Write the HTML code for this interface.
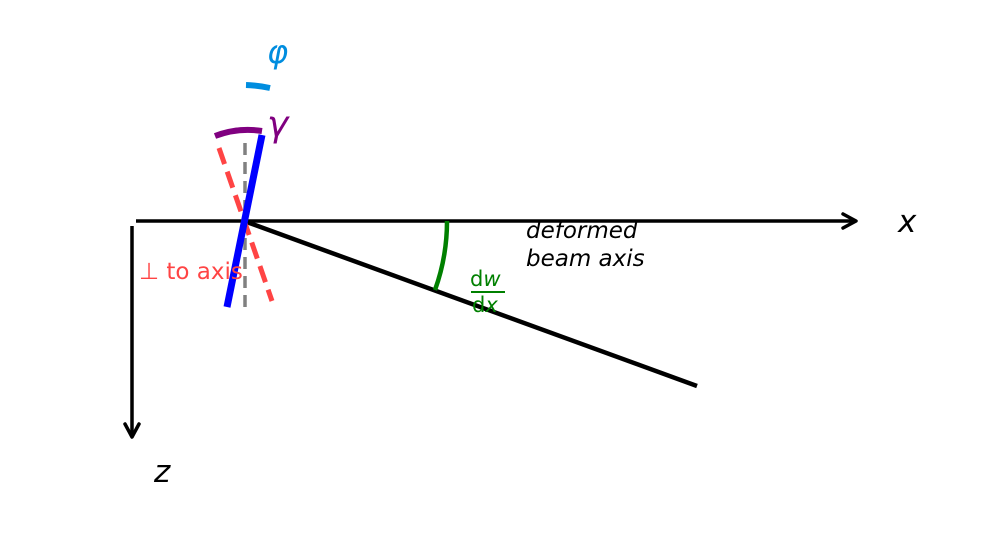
<!DOCTYPE html>
<html><head><meta charset="utf-8"><style>
html,body{margin:0;padding:0;background:#fff;}
svg{display:block;}
text{font-family:"DejaVu Sans","Liberation Sans",sans-serif;}
</style></head><body>
<svg width="996" height="556" viewBox="0 0 996 556" xmlns="http://www.w3.org/2000/svg">
<line x1="136" y1="221" x2="856" y2="221" stroke="#000" stroke-width="3.5"/>
<polyline points="843,214 856,221 843,228" fill="none" stroke="#000" stroke-width="3.5" stroke-linecap="round" stroke-linejoin="round"/>
<line x1="132" y1="226" x2="132" y2="437" stroke="#000" stroke-width="3.5"/>
<polyline points="125,424 132,437 139,424" fill="none" stroke="#000" stroke-width="3.5" stroke-linecap="round" stroke-linejoin="round"/>
<text x="898" y="232" font-size="31" font-style="italic">x</text>
<text x="154" y="482" font-size="31" font-style="italic">z</text>
<line x1="244" y1="221" x2="697" y2="386" stroke="#000" stroke-width="4.5"/>
<path d="M447,221 A203,203 0 0 1 435,290" fill="none" stroke="#008000" stroke-width="4.5"/>
<text x="470" y="286" font-size="21" fill="#008000">d<tspan font-style="italic">w</tspan></text>
<line x1="471" y1="292" x2="505" y2="292" stroke="#008000" stroke-width="2"/>
<text x="472" y="312" font-size="21" fill="#008000">d<tspan font-style="italic">x</tspan></text>
<text x="526" y="238" font-size="23" font-style="italic">deformed</text>
<text x="526" y="266" font-size="23" font-style="italic">beam axis</text>
<line x1="245" y1="143" x2="245" y2="307" stroke="#808080" stroke-width="3.5" stroke-dasharray="12,7"/>
<line x1="219" y1="148" x2="272" y2="301" stroke="#ff4444" stroke-width="5" stroke-dasharray="17,8"/>
<line x1="262" y1="135" x2="227" y2="307" stroke="#0000ff" stroke-width="7"/>
<path d="M215,136 A92,92 0 0 1 262,131" fill="none" stroke="#800080" stroke-width="6"/>
<text x="267" y="136" font-size="36" font-style="italic" fill="#800080">γ</text>
<path d="M246,85 A137,137 0 0 1 270,88" fill="none" stroke="#008ddf" stroke-width="6"/>
<text x="267" y="63" font-size="32" font-style="italic" fill="#008ddf">φ</text>
<text x="139" y="279" font-size="23" fill="#ff4444">⊥ to axis</text>
</svg>
</body></html>
